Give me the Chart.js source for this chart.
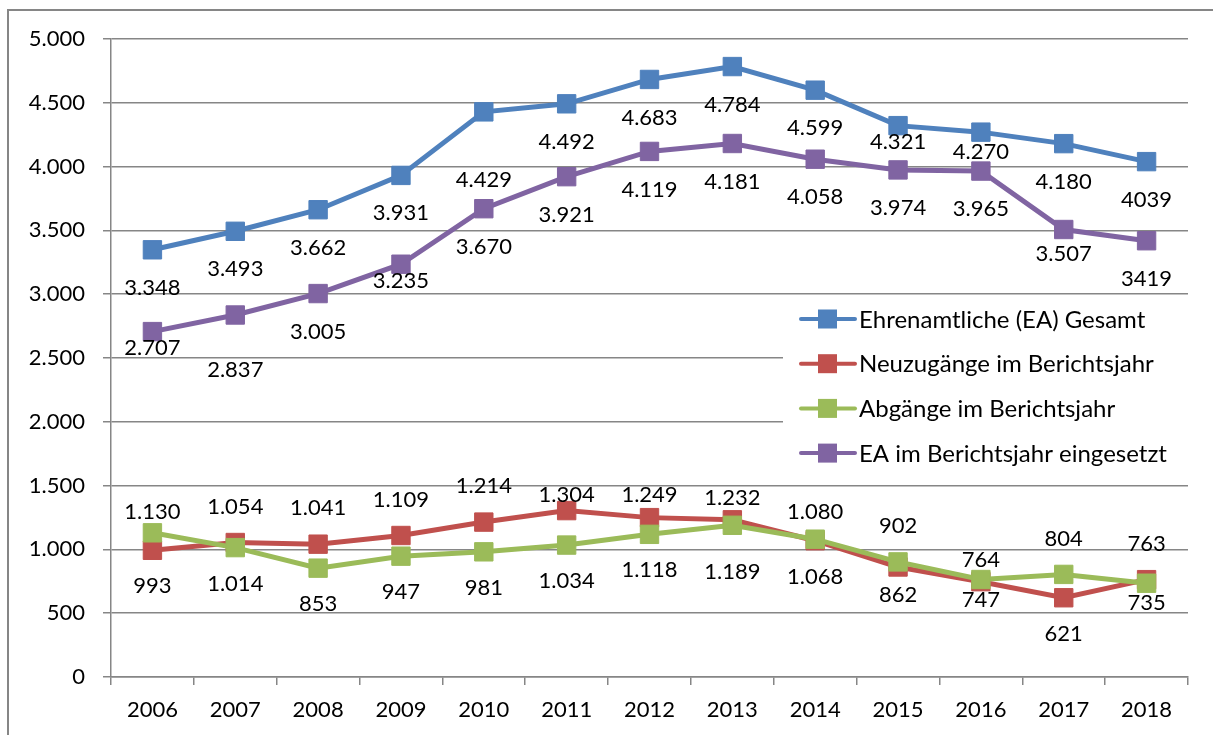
<!DOCTYPE html>
<html>
<head>
<meta charset="utf-8">
<script src="https://cdn.jsdelivr.net/npm/chart.js@4.4.0/dist/chart.umd.min.js"></script>
<style>
  html, body { margin: 0; padding: 0; background: #fff; }
  #wrap { width: 1213px; height: 735px; }
</style>
</head>
<body>
<div id="wrap"><canvas id="chart" width="1213" height="735"></canvas></div>
<script>
// Daten
const years = ['2006', '2007', '2008', '2009', '2010', '2011', '2012', '2013', '2014', '2015', '2016', '2017', '2018'];
const gesamt = [3348, 3493, 3662, 3931, 4429, 4492, 4683, 4784, 4599, 4321, 4270, 4180, 4039];
const neuzugaenge = [993, 1054, 1041, 1109, 1214, 1304, 1249, 1232, 1068, 862, 747, 621, 763];
const abgaenge = [1130, 1014, 853, 947, 981, 1034, 1118, 1189, 1080, 902, 764, 804, 735];
const eingesetzt = [2707, 2837, 3005, 3235, 3670, 3921, 4119, 4181, 4058, 3974, 3965, 3507, 3419];
const yTicks = [0, 500, 1000, 1500, 2000, 2500, 3000, 3500, 4000, 4500, 5000];

const FONT = { family: 'Lato', size: 22 };
const LEGEND_SIZE = 24;
const GRID = '#868686';

// 2018 steht ohne Tausenderpunkt in der Vorlage
const plainLabels = { 0: [12], 3: [12] };
// kleine Verschiebungen der Beschriftungen (px)
const labelNudge = {
  0: { 4: 30, 9: -22, 10: -18 },
  1: { 5: 20, 6: 13, 7: 14, 9: -8, 10: -18 },
  2: { 0: 15, 7: 11, 8: 9, 10: 16, 12: -16 },
  3: { 0: -22, 1: 17, 3: -21, 11: -14 }
};

function fmt(v) {
  return String(v).replace(/\B(?=(\d{3})+(?!\d))/g, '.');
}

function series(label, data, color, order) {
  return {
    label, data, order,
    borderColor: color,
    backgroundColor: color,
    borderWidth: 5,
    pointStyle: 'rect',
    pointRadius: 13,
    pointBorderWidth: 1,
    pointBorderColor: color,
    pointBackgroundColor: color,
    tension: 0
  };
}

// Rahmen
const frame = {
  id: 'frame',
  afterDraw(chart) {
    const c = chart.ctx;
    c.save();
    c.strokeStyle = GRID;
    c.lineWidth = 2;
    c.strokeRect(8, 10, 1230, 760);
    c.restore();
  }
};

// Legende im Diagramm
const boxLegend = {
  id: 'boxLegend',
  beforeDatasetsDraw(chart) {
    const c = chart.ctx;
    c.save();
    c.fillStyle = '#fff';
    c.fillRect(783, 298, chart.chartArea.right - 783 + 2, 176);
    c.font = LEGEND_SIZE + 'px ' + FONT.family;
    c.textBaseline = 'middle';
    c.textAlign = 'left';
    chart.data.datasets.forEach((ds, i) => {
      const y = 319 + i * 44.7;
      c.strokeStyle = ds.borderColor;
      c.lineWidth = 4;
      c.lineCap = 'round';
      c.beginPath();
      c.moveTo(801, y);
      c.lineTo(855, y);
      c.stroke();
      c.fillStyle = ds.borderColor;
      c.fillRect(818, y - 9.5, 19, 19);
      c.fillStyle = '#000';
      c.fillText(ds.label, 859, y + 1);
    });
    c.restore();
  }
};

// Datenbeschriftungen
const valueLabels = {
  id: 'valueLabels',
  afterDatasetsDraw(chart) {
    const c = chart.ctx;
    const sets = chart.data.datasets;
    c.save();
    c.font = FONT.size + 'px ' + FONT.family;
    c.fillStyle = '#000';
    c.textAlign = 'center';
    c.textBaseline = 'middle';
    sets.forEach((ds, di) => {
      const meta = chart.getDatasetMeta(di);
      meta.data.forEach((pt, i) => {
        let dy = 38;
        if (di === 1 || di === 2) {
          const other = sets[di === 1 ? 2 : 1].data[i];
          dy = ds.data[i] >= other ? -36 : 36;
        }
        dy += (labelNudge[di] && labelNudge[di][i]) || 0;
        const plain = plainLabels[di] && plainLabels[di].includes(i);
        const txt = plain ? String(ds.data[i]) : fmt(ds.data[i]);
        c.fillText(txt, pt.x, pt.y + dy);
      });
    });
    c.restore();
  }
};

const ctx = document.getElementById('chart').getContext('2d');
const chart = new Chart(ctx, {
  type: 'line',
  data: {
    labels: years,
    datasets: [
      series('Ehrenamtliche (EA) Gesamt', gesamt, '#4F81BD', 3),
      series('Neuzugänge im Berichtsjahr', neuzugaenge, '#C0504D', 2),
      series('Abgänge im Berichtsjahr', abgaenge, '#9BBB59', 1),
      series('EA im Berichtsjahr eingesetzt', eingesetzt, '#8064A2', 0)
    ]
  },
  options: {
    responsive: false,
    animation: false,
    devicePixelRatio: 1,
    layout: { padding: { top: 39, right: 25, left: 0, bottom: 0 } },
    plugins: {
      legend: { display: false },
      tooltip: { enabled: false }
    },
    scales: {
      x: {
        offset: true,
        grid: { offset: true, drawOnChartArea: false, drawTicks: true, tickLength: 8, color: GRID, lineWidth: 1.5 },
        border: { display: true, color: GRID, width: 1.5 },
        ticks: { font: FONT, color: '#000', padding: 12, maxRotation: 0, autoSkip: false },
        afterFit(s) { s.height = 58; }
      },
      y: {
        min: 0,
        max: 5000,
        afterBuildTicks(s) { s.ticks = yTicks.map(v => ({ value: v })); },
        grid: { color: GRID, lineWidth: 1.5, tickLength: 8 },
        border: { display: true, color: GRID, width: 1.5 },
        ticks: { font: FONT, color: '#000', padding: 18, callback: v => fmt(v) },
        afterFit(s) { s.width = 111; }
      }
    }
  },
  plugins: [frame, boxLegend, valueLabels]
});
</script>
</body>
</html>
